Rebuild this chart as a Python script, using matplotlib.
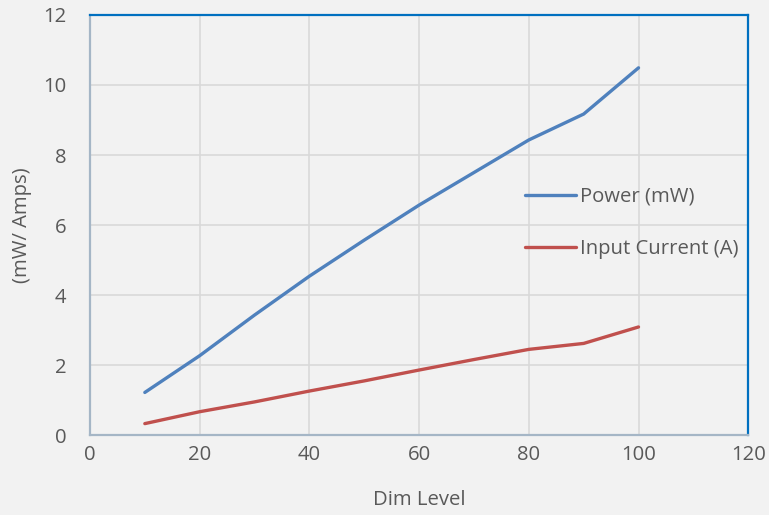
import matplotlib.pyplot as plt

# ── data ------------------------------------------------------------------- #
dim_level = [10, 20, 30, 40, 50, 60, 70, 80, 90, 100]
power_mw = [1.22, 2.27, 3.43, 4.54, 5.57, 6.57, 7.50, 8.43, 9.17, 10.49]
current_a = [0.33, 0.67, 0.95, 1.26, 1.55, 1.86, 2.16, 2.45, 2.62, 3.09]

x_ticks = [0, 20, 40, 60, 80, 100, 120]
y_ticks = [0, 2, 4, 6, 8, 10, 12]

plt.rcParams["font.family"] = ["Open Sans", "DejaVu Sans"]
text_col = "#595959"
bg = "#F2F2F2"
fs = 14.6

fig = plt.figure(figsize=(7.69, 5.15), dpi=100, facecolor=bg)
ax = fig.add_axes([0.117, 0.155, 0.856, 0.816], facecolor=bg)

ax.plot(dim_level, power_mw, color="#4F81BD", lw=2.4, label="Power (mW)",
        solid_capstyle="round")
ax.plot(dim_level, current_a, color="#C0504D", lw=2.4, label="Input Current (A)",
        solid_capstyle="round")

ax.set_xlim(0, 120)
ax.set_ylim(0, 12)
ax.set_xticks(x_ticks)
ax.set_yticks(y_ticks)
ax.grid(True, color="#D9D9D9", lw=1.2)
ax.set_axisbelow(True)

ax.tick_params(length=0, labelsize=fs, labelcolor=text_col)
ax.tick_params(axis="y", pad=17)
ax.tick_params(axis="x", pad=7)

for side in ("top", "right"):
    ax.spines[side].set_color("#0070C0")
    ax.spines[side].set_linewidth(1.6)
for side in ("left", "bottom"):
    ax.spines[side].set_color("#A5B6C6")
    ax.spines[side].set_linewidth(1.6)

ax.set_xlabel("Dim Level", fontsize=fs, color=text_col, labelpad=18)
ax.set_ylabel("(mW/ Amps)", fontsize=fs, color=text_col, labelpad=8)

ax.legend(loc="center left", bbox_to_anchor=(0.645, 0.505), frameon=False,
          fontsize=fs, labelcolor=text_col, handlelength=2.55,
          handletextpad=0.2, labelspacing=1.6, borderpad=0)

fig.savefig("out.png", dpi=100, facecolor=bg)
